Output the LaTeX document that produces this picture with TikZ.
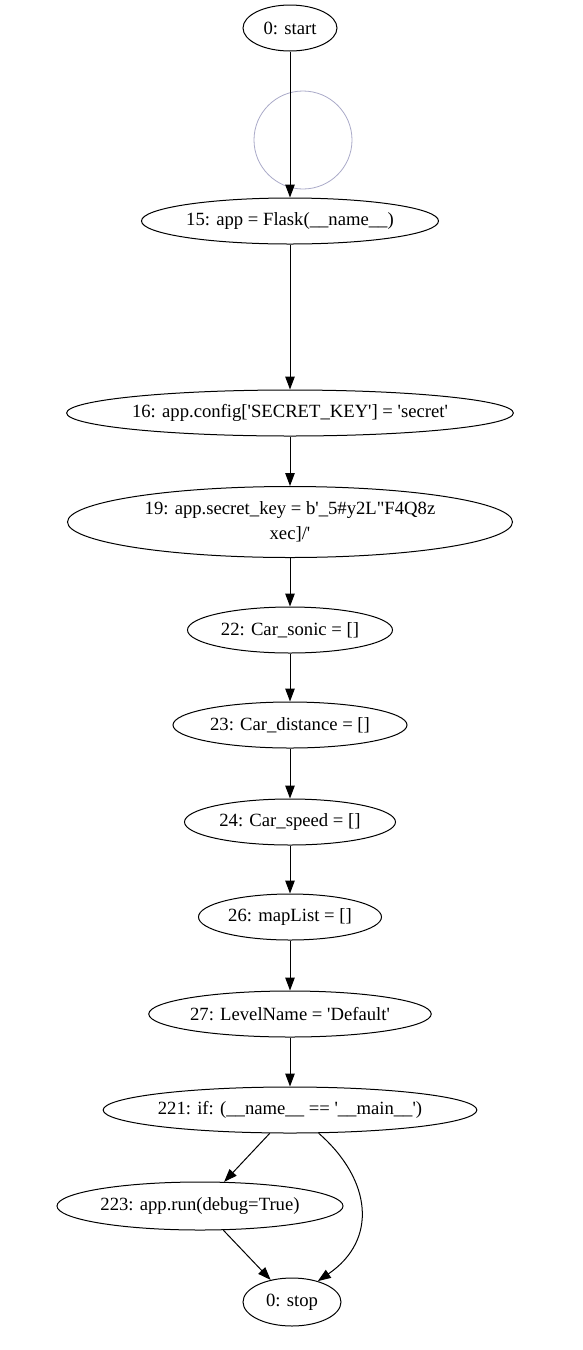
\documentclass[tikz,border=0pt]{standalone}
\usepackage{fontspec}
\setmainfont{Liberation Serif}[Ligatures=TeXOff]
\usetikzlibrary{shapes.geometric,arrows.meta}
\begin{document}
\begin{tikzpicture}[x=1pt,y=-1pt,
  every node/.style={font=\fontsize{18.67}{25}\selectfont},
  gvnode/.style={ellipse,draw,line width=1pt,inner sep=0pt,align=center},
  gvedge/.style={draw,line width=1pt,-{Triangle[length=13pt,width=9.5pt]}}]
\useasboundingbox (0,0) rectangle (583,1350);
\node[gvnode,minimum width=94pt,minimum height=46pt] (start) at (290,28) {0: start};
\node[draw={rgb,255:red,170;green,170;blue,200},circle,line width=0.8pt,minimum size=98pt,inner sep=0pt] (deco) at (303,140) {};
\node[gvnode,minimum width=297pt,minimum height=46pt] (n15) at (290,221) {15: app = Flask(\_\_name\_\_)};
\node[gvnode,minimum width=443pt,minimum height=46pt] (n16) at (290,413) {16: app.config['SECRET\_KEY'] = 'secret'};
\node[gvnode,minimum width=445pt,minimum height=71pt] (n19) at (290,522) {19: app.secret\_key = b'\_5\#y2L"F4Q8z\\xec]/'};
\node[gvnode,minimum width=205pt,minimum height=46pt] (n22) at (290,630) {22: Car\_sonic = []};
\node[gvnode,minimum width=234pt,minimum height=46pt] (n23) at (290,725) {23: Car\_distance = []};
\node[gvnode,minimum width=211pt,minimum height=46pt] (n24) at (290,822) {24: Car\_speed = []};
\node[gvnode,minimum width=183pt,minimum height=46pt] (n26) at (290,917) {26: mapList = []};
\node[gvnode,minimum width=279pt,minimum height=46pt] (n27) at (290,1014) {27: LevelName = 'Default'};
\node[gvnode,minimum width=368pt,minimum height=46pt] (n221) at (290,1110) {221: if: (\_\_name\_\_ == '\_\_main\_\_')};
\node[gvnode,minimum width=286pt,minimum height=48pt] (n223) at (200,1206) {223: app.run(debug=True)};
\node[gvnode,minimum width=98pt,minimum height=48pt] (stop) at (292,1302) {0: stop};
\path[gvedge] (start) -- (n15);
\path[gvedge] (n15) -- (n16);
\path[gvedge] (n16) -- (n19);
\path[gvedge] (n19) -- (n22);
\path[gvedge] (n22) -- (n23);
\path[gvedge] (n23) -- (n24);
\path[gvedge] (n24) -- (n26);
\path[gvedge] (n26) -- (n27);
\path[gvedge] (n27) -- (n221);
\path[gvedge] (n221.-131) -- (n223.45);
\path[gvedge] (n223.-46) -- (stop.134);
\path[gvedge] (n221.-39) .. controls (372,1180) and (378,1240) .. (stop.39);
\end{tikzpicture}
\end{document}
